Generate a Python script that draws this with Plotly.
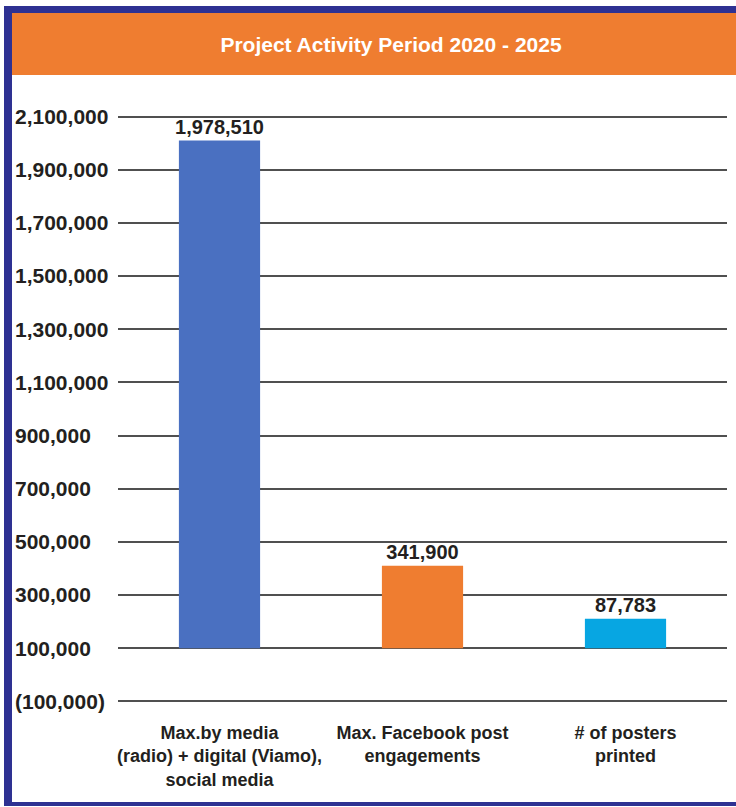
import plotly.graph_objects as go

# categories and printed values
categories = [
    "Max.by media<br>(radio) + digital (Viamo),<br>social media",
    "Max. Facebook post<br>engagements",
    "# of posters<br>printed",
]
value_labels = ["1,978,510", "341,900", "87,783"]
# bar heights as drawn, measured from the 100,000 baseline
bar_base = 100000
bar_heights = [1910000, 310000, 111000]
bar_colors = ["#4A70C1", "#EF7D30", "#07A6E2"]
tick_values = list(range(-100000, 2100001, 200000))
tick_text = [f"({abs(v):,})" if v < 0 else f"{v:,}" for v in tick_values]

NAVY = "#2E3192"
ORANGE = "#EF7D30"
INK = "#231F20"
SANS = "Liberation Sans, Arial, sans-serif"

fig = go.Figure()
fig.add_trace(go.Bar(
    x=categories, y=bar_heights, base=bar_base,
    marker=dict(color=bar_colors, line=dict(width=0)),
    text=value_labels, textposition="outside", constraintext="none",
    textfont=dict(family=SANS, size=20, color=INK, weight="bold"),
    cliponaxis=False, showlegend=False, hoverinfo="skip",
))
# invisible trace so the label axis is drawn
fig.add_trace(go.Scatter(
    x=categories, y=[b + bar_base for b in bar_heights], yaxis="y2",
    mode="markers", marker=dict(opacity=0, size=1),
    showlegend=False, hoverinfo="skip",
))

yrange = [-110000, 2110000]
fig.update_layout(
    width=736, height=807,
    margin=dict(l=14, r=9, t=114, b=103),
    paper_bgcolor="white", plot_bgcolor="white",
    bargap=0.6,
    title=dict(
        text="Project Activity Period 2020 - 2025",
        x=391 / 736, xref="container", xanchor="center",
        y=1 - 45 / 807, yref="container", yanchor="middle",
        font=dict(family=SANS, size=21, color="white", weight="bold"),
    ),
    xaxis=dict(
        domain=[104 / 713, 1], showgrid=False, zeroline=False, showline=False,
        ticks="", ticklabelstandoff=16,
        tickfont=dict(family=SANS, size=18, color=INK, weight="bold"),
    ),
    yaxis=dict(
        range=yrange, tickvals=tick_values, showticklabels=False,
        showgrid=True, gridcolor="#505050", gridwidth=2,
        zeroline=False, showline=False, ticks="",
    ),
    yaxis2=dict(
        range=yrange, tickvals=tick_values, ticktext=tick_text,
        overlaying="y", anchor="free", position=0, side="right",
        showgrid=False, zeroline=False, showline=False, ticks="",
        tickfont=dict(family=SANS, size=21, color=INK, weight="bold"),
    ),
)

# header band and frame, in pixels from the top-left corner of the plot paper
def px_rect(x0, y0, x1, y1, color):
    fig.add_shape(
        type="rect", layer="below", line=dict(width=0), fillcolor=color,
        xref="paper", yref="paper", xsizemode="pixel", ysizemode="pixel",
        xanchor=0, yanchor=1, x0=x0, x1=x1, y0=y0, y1=y1,
    )

px_rect(-2, 39, 722, 101, ORANGE)      # header band
px_rect(-10, 101, 722, 108, NAVY)      # top edge
px_rect(-10, 108, -2, -692, NAVY)      # left edge
px_rect(-10, -688, 722, -692, NAVY)    # bottom edge

# drop the default page margin and scrollbars so the figure fills the window
fig.write_html(
    "out.html",
    config={"displayModeBar": False},
    post_script=(
        "document.body.style.margin='0';"
        "document.body.style.overflow='hidden';"
        "document.documentElement.style.overflow='hidden';"
    ),
)
